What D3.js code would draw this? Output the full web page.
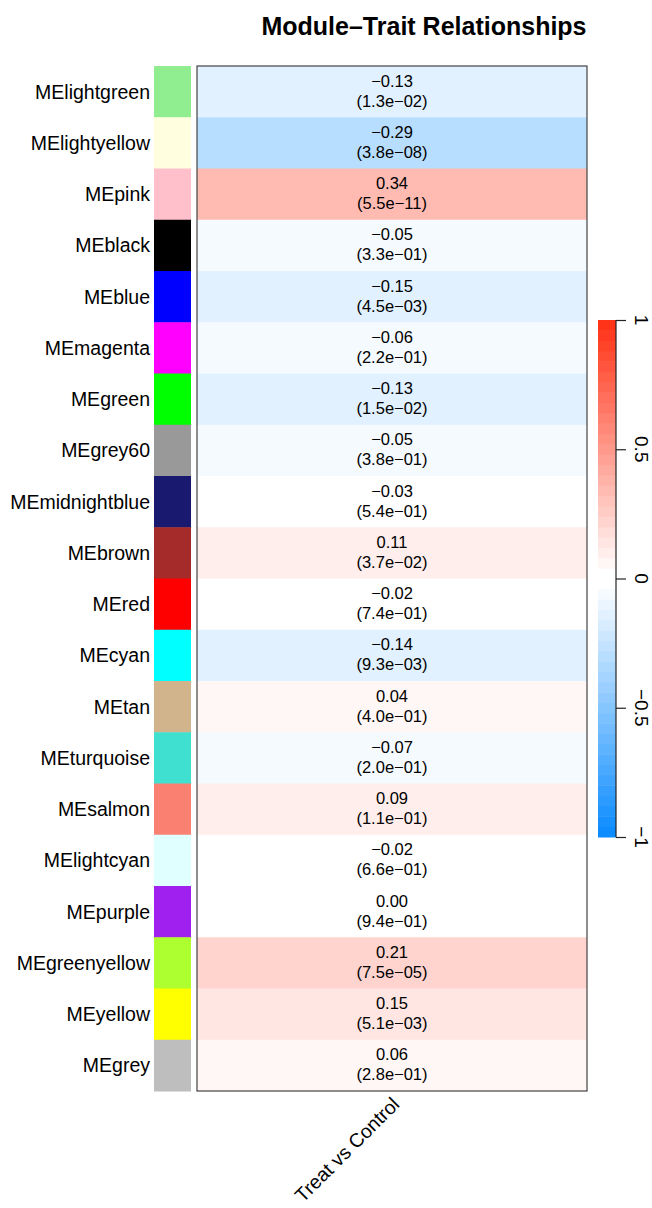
<!DOCTYPE html>
<html>
<head>
<meta charset="utf-8">
<script src="https://cdn.jsdelivr.net/npm/d3@7"></script>
<style>
  html, body { margin: 0; padding: 0; background: #fff; }
  svg { display: block; font-family: "Liberation Sans", Arial, sans-serif; }
</style>
</head>
<body>
<svg id="chart" width="652" height="1208"></svg>
<script>
// Module eigengenes, their colours, and correlation with the trait
const modules = ["lightgreen", "lightyellow", "pink", "black", "blue", "magenta", "green",
  "grey60", "midnightblue", "brown", "red", "cyan", "tan", "turquoise", "salmon",
  "lightcyan", "purple", "greenyellow", "yellow", "grey"];
const moduleColors = ["#90EE90", "#FFFFE0", "#FFC0CB", "#000000", "#0000FF", "#FF00FF", "#00FF00",
  "#999999", "#191970", "#A52A2A", "#FF0000", "#00FFFF", "#D2B48C", "#40E0D0", "#FA8072",
  "#E0FFFF", "#A020F0", "#ADFF2F", "#FFFF00", "#BEBEBE"];
const correlations = [-0.13, -0.29, 0.34, -0.05, -0.15, -0.06, -0.13, -0.05, -0.03, 0.11,
  -0.02, -0.14, 0.04, -0.07, 0.09, -0.02, 0.00, 0.21, 0.15, 0.06];
const pValues = ["1.3e-02", "3.8e-08", "5.5e-11", "3.3e-01", "4.5e-03", "2.2e-01", "1.5e-02",
  "3.8e-01", "5.4e-01", "3.7e-02", "7.4e-01", "9.3e-03", "4.0e-01", "2.0e-01", "1.1e-01",
  "6.6e-01", "9.4e-01", "7.5e-05", "5.1e-03", "2.8e-01"];
const traits = ["Treat vs Control"];
const legendTicks = [-1, -0.5, 0, 0.5, 1];
const title = "Module\u2013Trait Relationships";

const minus = s => String(s).replace(/-/g, "\u2212");

// Blue–white–red palette with 50 discrete steps
const nCols = 50, half = nCols / 2;
const blueEnd = [0.05, 0.55, 1.0], redEnd = [1.0, 0.2, 0.09];
const palette = [];
for (let i = 0; i < half; i++) {
  const f = i / (half - 1);
  palette.push(d3.rgb(...blueEnd.map(c => 255 * (c + (1 - c) * f))).formatHex());
}
for (let i = 0; i < half; i++) {
  const f = (half - 1 - i) / (half - 1);
  palette.push(d3.rgb(...redEnd.map(c => 255 * (c + (1 - c) * f))).formatHex());
}
const colorScale = d3.scaleQuantize().domain([-1, 1]).range(palette);

const svg = d3.select("#chart");

// Layout
const heat = { left: 197, right: 587, top: 66, bottom: 1091 };
const swatch = { left: 154, right: 191 };

const y = d3.scaleBand().domain(modules).range([heat.top, heat.bottom]);
const x = d3.scaleBand().domain(traits).range([heat.left, heat.right]);

// Title
svg.append("text")
  .attr("x", 424).attr("y", 35)
  .attr("text-anchor", "middle")
  .attr("font-size", 25).attr("font-weight", "bold")
  .text(title);

// Module colour swatches
svg.append("g").selectAll("rect")
  .data(modules)
  .join("rect")
  .attr("x", swatch.left)
  .attr("y", d => y(d))
  .attr("width", swatch.right - swatch.left)
  .attr("height", y.bandwidth() + 0.5)
  .attr("fill", (d, i) => moduleColors[i]);

// Row labels
svg.append("g").selectAll("text")
  .data(modules)
  .join("text")
  .attr("x", 150)
  .attr("y", d => y(d) + y.bandwidth() / 2)
  .attr("dy", "0.36em")
  .attr("text-anchor", "end")
  .attr("font-size", 19.5)
  .text(d => "ME" + d);

// Heatmap cells
const cells = svg.append("g");
cells.selectAll("rect")
  .data(modules)
  .join("rect")
  .attr("x", x(traits[0]))
  .attr("y", d => y(d))
  .attr("width", x.bandwidth())
  .attr("height", y.bandwidth() + 0.5)
  .attr("fill", (d, i) => colorScale(correlations[i]));

// Cell text: correlation and p-value
const labels = svg.append("g").attr("text-anchor", "middle").attr("font-size", 16.5);
modules.forEach((m, i) => {
  const cx = x(traits[0]) + x.bandwidth() / 2;
  const cy = y(m) + y.bandwidth() / 2;
  labels.append("text").attr("x", cx).attr("y", cy - 5).text(minus(correlations[i].toFixed(2)));
  labels.append("text").attr("x", cx).attr("y", cy + 15).text("(" + minus(pValues[i]) + ")");
});

// Heatmap frame
svg.append("rect")
  .attr("x", heat.left).attr("y", heat.top)
  .attr("width", heat.right - heat.left).attr("height", heat.bottom - heat.top)
  .attr("fill", "none").attr("stroke", "#444").attr("stroke-width", 1.2);

// Trait label
svg.append("text")
  .attr("transform", `translate(${x(traits[0]) + x.bandwidth() / 2 - 1},${heat.bottom + 5}) rotate(-45)`)
  .attr("text-anchor", "end")
  .attr("dy", "0.7em")
  .attr("font-size", 19.5)
  .text(traits[0]);

// Colour legend
const legend = { left: 598, right: 616, top: 320, bottom: 837 };
const ly = d3.scaleLinear().domain([-1, 1]).range([legend.bottom, legend.top]);
const steps = d3.range(nCols).map(i => -1 + 2 * i / nCols);
svg.append("g").selectAll("rect")
  .data(steps)
  .join("rect")
  .attr("x", legend.left)
  .attr("y", d => ly(d + 2 / nCols))
  .attr("width", legend.right - legend.left)
  .attr("height", ly(0) - ly(2 / nCols) + 0.5)
  .attr("fill", d => colorScale(d + 1 / nCols));

const axis = svg.append("g").attr("transform", `translate(${legend.right},0)`)
  .call(d3.axisRight(ly).tickValues(legendTicks).tickSize(10).tickFormat(() => ""));
axis.select(".domain").attr("stroke", "#222").attr("stroke-width", 1.2).attr("d", `M0,${legend.top}V${legend.bottom}`);
axis.selectAll(".tick line").attr("stroke", "#222").attr("stroke-width", 1.2);

svg.append("g").selectAll("text")
  .data(legendTicks)
  .join("text")
  .attr("transform", d => `translate(642,${ly(d)}) rotate(90)`)
  .attr("text-anchor", "middle")
  .attr("dy", "0.36em")
  .attr("font-size", 19)
  .text(d => minus(d));
</script>
</body>
</html>
